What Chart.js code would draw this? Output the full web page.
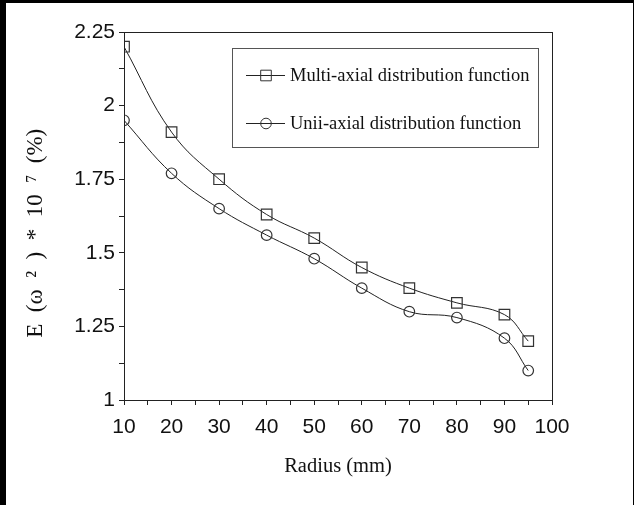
<!DOCTYPE html>
<html><head><meta charset="utf-8">
<script src="https://cdn.jsdelivr.net/npm/chart.js@4/dist/chart.umd.min.js"></script>
<style>html,body{margin:0;padding:0;background:#000;overflow:hidden}canvas{display:block}</style>
</head><body>
<canvas id="c" width="634" height="505"></canvas>
<script>
// ---- data ----
const radius = [10, 20, 30, 40, 50, 60, 70, 80, 90, 95];
const multiAxial = [2.20, 1.91, 1.75, 1.63, 1.55, 1.45, 1.38, 1.33, 1.29, 1.20];
const uniAxial = [1.95, 1.77, 1.65, 1.56, 1.48, 1.38, 1.30, 1.28, 1.21, 1.10];
const seriesLabels = ['Multi-axial distribution function', 'Unii-axial distribution function'];
const xTickLabels = [10, 20, 30, 40, 50, 60, 70, 80, 90, 100];
const yTickLabels = [1, 1.25, 1.5, 1.75, 2, 2.25];
const xTitle = 'Radius (mm)';
const yTitle = 'E\u2002(\u03C9\u2002\u00B2\u2002)\u2002*\u200210\u2002\u2077\u2002(%)\u2002\u2002\u2002';

const ink = '#222';

const framePlugin = {
  id: 'frame',
  beforeDraw(chart) {
    const ctx = chart.ctx;
    ctx.save();
    ctx.fillStyle = '#000';
    ctx.fillRect(0, 0, chart.width, chart.height);
    ctx.fillStyle = '#fff';
    ctx.fillRect(6, 3, chart.width - 7, chart.height - 3);
    ctx.restore();
  },
  afterDraw(chart) {
    const {ctx, chartArea: a} = chart;
    ctx.save();
    ctx.strokeStyle = ink;
    ctx.lineWidth = 1;
    ctx.strokeRect(Math.round(a.left) + 0.5, Math.round(a.top) + 0.5,
      Math.round(a.right - a.left), Math.round(a.bottom - a.top));
    ctx.restore();
  }
};

const legendBox = {
  id: 'legendBox',
  afterDraw(chart) {
    const ctx = chart.ctx;
    ctx.save();
    ctx.strokeStyle = '#555';
    ctx.lineWidth = 1;
    ctx.strokeRect(232.5, 48.5, 306, 99);
    const rows = [75, 123];
    chart.data.datasets.forEach((ds, i) => {
      const y = rows[i];
      ctx.strokeStyle = ink;
      ctx.lineWidth = 1;
      ctx.beginPath();
      ctx.moveTo(246, y + 0.5);
      ctx.lineTo(285, y + 0.5);
      ctx.stroke();
      ctx.fillStyle = 'rgba(255,255,255,0)';
      ctx.strokeStyle = '#333';
      Chart.helpers.drawPoint(ctx, {
        pointStyle: ds.pointStyle, radius: ds.pointRadius, borderWidth: 1, rotation: 0
      }, 266, y + 0.5);
      ctx.fillStyle = '#111';
      ctx.font = '18.5px "Liberation Serif", "Times New Roman", serif';
      ctx.textBaseline = 'middle';
      ctx.textAlign = 'left';
      ctx.fillText(ds.label, 290, y + 1);
    });
    ctx.restore();
  }
};

new Chart(document.getElementById('c'), {
  type: 'line',
  data: {
    datasets: [
      {
        label: seriesLabels[0],
        data: radius.map((r, i) => ({x: r, y: multiAxial[i]})),
        borderColor: ink, borderWidth: 1,
        pointStyle: 'rect', pointRadius: 7.5,
        pointBorderColor: '#333', pointBackgroundColor: 'rgba(0,0,0,0)', pointBorderWidth: 1.2,
        tension: 0.4, fill: false
      },
      {
        label: seriesLabels[1],
        data: radius.map((r, i) => ({x: r, y: uniAxial[i]})),
        borderColor: ink, borderWidth: 1,
        pointStyle: 'circle', pointRadius: 5.3,
        pointBorderColor: '#333', pointBackgroundColor: 'rgba(0,0,0,0)', pointBorderWidth: 1.2,
        tension: 0.4, fill: false
      }
    ]
  },
  options: {
    responsive: false,
    animation: false,
    devicePixelRatio: 1,
    layout: {padding: {left: 0, top: 32, right: 82, bottom: 0}},
    plugins: {legend: {display: false}, tooltip: {enabled: false}},
    scales: {
      x: {
        type: 'linear', min: 10, max: 100,
        afterFit(s) { s.height = 105; },
        afterBuildTicks(s) {
          const t = [];
          for (let v = 10; v <= 100; v += 5) t.push({value: v});
          s.ticks = t;
        },
        ticks: {
          color: '#111', padding: 10, maxRotation: 0, autoSkip: false,
          font: {family: '"Liberation Sans", Arial, sans-serif', size: 21},
          callback: v => xTickLabels.includes(v) ? String(v) : ''
        },
        grid: {display: true, drawOnChartArea: false, drawTicks: true, tickLength: 5, color: ink},
        border: {display: true, color: ink, width: 1},
        title: {
          display: true, text: xTitle, color: '#111',
          font: {family: '"Liberation Serif", "Times New Roman", serif', size: 20.5},
          padding: {top: 0, bottom: 26}
        }
      },
      y: {
        type: 'linear', min: 1, max: 2.25,
        afterFit(s) { s.width = 124; },
        afterBuildTicks(s) {
          const t = [];
          for (let k = 0; k <= 10; k++) t.push({value: 1 + k * 0.125});
          s.ticks = t;
        },
        ticks: {
          color: '#111', padding: 4, autoSkip: false,
          font: {family: '"Liberation Sans", Arial, sans-serif', size: 21},
          callback: v => {
            const m = yTickLabels.find(l => Math.abs(l - v) < 1e-6);
            return m !== undefined ? String(m) : '';
          }
        },
        grid: {display: true, drawOnChartArea: false, drawTicks: true, tickLength: 5, color: ink},
        border: {display: true, color: ink, width: 1},
        title: {
          display: true, text: yTitle, color: '#111',
          font: {family: '"Liberation Serif", "Times New Roman", serif', size: 23},
          padding: {top: 22, bottom: 0}
        }
      }
    }
  },
  plugins: [framePlugin, legendBox]
});
</script>
</body></html>
